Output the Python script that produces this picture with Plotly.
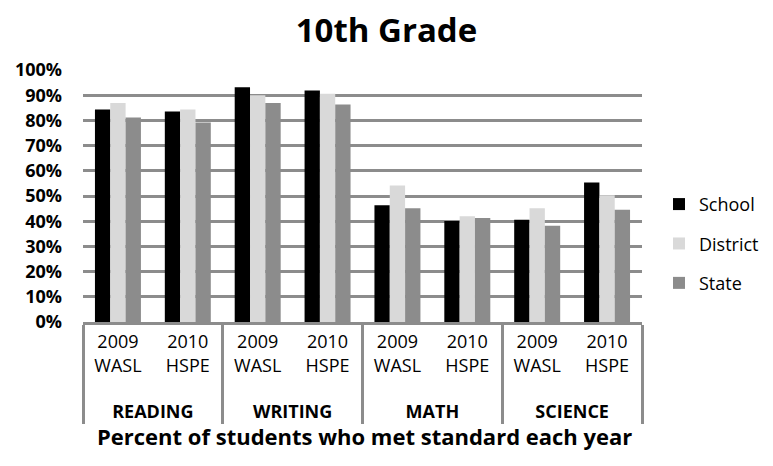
import plotly.graph_objects as go

# Data
subjects = ["<b>READING</b>", "<b>READING</b>", "<b>WRITING</b>", "<b>WRITING</b>",
            "<b>MATH</b>", "<b>MATH</b>", "<b>SCIENCE</b>", "<b>SCIENCE</b>"]
PAD = "<br><span style='font-size:14px'>\u00a0</span>"
tests = ["2009<br>WASL" + PAD, "2010<br>HSPE" + PAD] * 4
school = [0.843, 0.835, 0.932, 0.919, 0.463, 0.401, 0.406, 0.554]
district = [0.869, 0.843, 0.900, 0.906, 0.542, 0.420, 0.451, 0.503]
state = [0.812, 0.792, 0.869, 0.863, 0.451, 0.413, 0.382, 0.445]
y_ticks = [0, 0.1, 0.2, 0.3, 0.4, 0.5, 0.6, 0.7, 0.8, 0.9, 1.0]

GRID = "#8c8c8c"
FONT = "Open Sans, Noto Sans, sans-serif"
W, H = 765, 458  # page body adds an 8px margin

fig = go.Figure()
for name, vals, col in [("School", school, "#000000"),
                        ("District", district, "#d9d9d9"),
                        ("State", state, "#8c8c8c")]:
    fig.add_trace(go.Bar(x=[subjects, tests], y=vals, name=name, legendgroup=name,
                         marker=dict(color=col, line=dict(width=0))))

fig.update_layout(
    width=W, height=H,
    paper_bgcolor="white", plot_bgcolor="white",
    margin=dict(l=75, r=131, t=62, b=144, pad=0, autoexpand=False),
    barmode="group", bargap=0.342, bargroupgap=0,
    font=dict(family=FONT, color="black"),
    title=dict(text="<b>10th Grade</b>", x=378.5 / W, xanchor="center", xref="container",
               y=1 - 22 / H, yanchor="middle", yref="container",
               font=dict(size=33, family=FONT, color="black")),
    legend=dict(x=1.0304, xanchor="left", y=0.31, yanchor="middle",
                font=dict(size=18, family=FONT),
                traceorder="grouped", tracegroupgap=13, itemsizing="constant"),
    showlegend=True,
    annotations=[dict(text="<b>Percent of students who met standard each year</b>",
                      xref="paper", yref="paper", x=0.503, y=-0.452, xanchor="center",
                      yanchor="middle", showarrow=False,
                      font=dict(size=22, family=FONT, color="black"))],
)
fig.update_yaxes(range=[0, 1.0], tickvals=y_ticks, tickformat=".0%", automargin=False,
                 tickfont=dict(size=18, family=FONT, weight="bold"),
                 showgrid=True, gridcolor=GRID, gridwidth=2.5,
                 showline=False, ticks="", ticklabelstandoff=20, zeroline=False)
fig.update_xaxes(type="multicategory", automargin=False,
                 showline=True, linecolor=GRID, linewidth=2.5,
                 showdividers=True, dividercolor=GRID, dividerwidth=2.5,
                 ticks="", ticklabelstandoff=2, tickfont=dict(size=18, family=FONT))
fig.write_html("out.html")
